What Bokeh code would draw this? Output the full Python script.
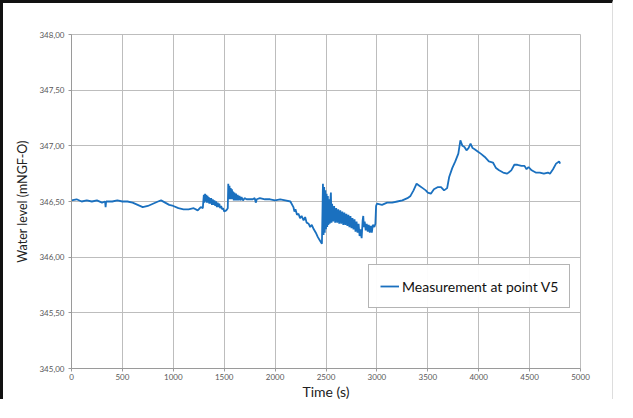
from bokeh.plotting import figure
from bokeh.models import FixedTicker, CustomJSTickFormatter, Range1d, Legend, LegendItem
from bokeh.embed import file_html
from bokeh.resources import INLINE

# ---- data ----
time_s = [0, 50, 100, 150, 200, 250, 300, 330, 335, 340, 400, 450, 500, 550, 600, 650, 700, 750,
          800, 850, 880, 920, 960, 1000, 1050, 1100, 1150, 1200, 1240, 1270, 1290,
          1300, 1306, 1312, 1318, 1324, 1330, 1336, 1342, 1348, 1354, 1360, 1366, 1372, 1380, 1388, 1396,
          1404, 1412, 1420, 1428, 1436, 1444, 1452, 1460, 1470, 1480, 1490, 1500, 1520, 1535,
          1540, 1546, 1552, 1558, 1564, 1570, 1576, 1582, 1588, 1594, 1600, 1608, 1616, 1624, 1632, 1640,
          1650, 1660, 1670, 1685, 1700, 1720, 1750, 1780, 1800, 1810, 1820,
          1850, 1900, 1950, 2000, 2050, 2100, 2150, 2180, 2190, 2200, 2215, 2230, 2245, 2260, 2280, 2295,
          2310, 2330, 2345, 2360, 2380, 2400, 2420, 2440, 2460,
          2470, 2476, 2482, 2488, 2494, 2500, 2506, 2512, 2518, 2524, 2530, 2536, 2542, 2548, 2554, 2560,
          2570, 2580, 2590, 2600, 2610, 2620, 2630, 2640, 2650, 2660, 2670, 2680, 2690, 2700, 2710, 2720,
          2730, 2740, 2750, 2760, 2770, 2780, 2790, 2800, 2810, 2820, 2830, 2840, 2850, 2860, 2866, 2872,
          2880, 2890, 2900, 2910, 2920, 2930, 2940, 2950, 2960, 2975, 2985, 2992,
          3000, 3050, 3100, 3150, 3200, 3250, 3300, 3330, 3360, 3390, 3420, 3450, 3480, 3500,
          3530, 3560, 3600, 3630, 3660, 3690, 3710, 3740, 3770, 3800, 3820, 3840, 3860, 3880, 3900, 3920,
          3940, 3960, 3990, 4020, 4060, 4100, 4140, 4170, 4200, 4240, 4280, 4320, 4350, 4380, 4420, 4450,
          4470, 4490, 4520, 4560, 4600, 4640, 4680, 4700, 4730, 4760, 4790, 4800]
level_m = [346.51, 346.52, 346.50, 346.51, 346.50, 346.51, 346.49, 346.50, 346.45, 346.50, 346.50, 346.51,
           346.50, 346.50, 346.49, 346.47, 346.45, 346.46, 346.48, 346.50, 346.51, 346.49, 346.47, 346.46,
           346.44, 346.43, 346.43, 346.44, 346.42, 346.45, 346.44,
           346.56, 346.49, 346.57, 346.50, 346.56, 346.49, 346.55, 346.49, 346.54, 346.48, 346.53, 346.48,
           346.53, 346.47, 346.52, 346.47, 346.51, 346.46, 346.50, 346.45, 346.49, 346.45, 346.48, 346.44,
           346.46, 346.43, 346.44, 346.41, 346.42, 346.44,
           346.66, 346.52, 346.64, 346.52, 346.62, 346.52, 346.61, 346.52, 346.59, 346.51, 346.58, 346.51,
           346.57, 346.51, 346.56, 346.51, 346.55, 346.51, 346.54, 346.51, 346.53, 346.52, 346.52, 346.52,
           346.53, 346.49, 346.52,
           346.53, 346.52, 346.52, 346.51, 346.52, 346.51, 346.50, 346.45, 346.41, 346.43, 346.38, 346.39,
           346.35, 346.37, 346.33, 346.36, 346.31, 346.30, 346.27, 346.29, 346.25, 346.22, 346.18, 346.15,
           346.12,
           346.66, 346.20, 346.63, 346.22, 346.60, 346.25, 346.57, 346.27, 346.55, 346.29, 346.52, 346.30,
           346.50, 346.58, 346.31, 346.48, 346.32, 346.46, 346.31, 346.44, 346.31, 346.43, 346.30, 346.42,
           346.30, 346.41, 346.29, 346.40, 346.29, 346.39, 346.28, 346.38, 346.27, 346.37, 346.26, 346.35,
           346.25, 346.34, 346.23, 346.32, 346.22, 346.30, 346.19, 346.25, 346.17, 346.33, 346.37, 346.27,
           346.32, 346.24, 346.30, 346.23, 346.29, 346.22, 346.28, 346.22, 346.29, 346.27, 346.30, 346.46,
           346.48, 346.47, 346.49, 346.49, 346.50, 346.51, 346.53, 346.55, 346.60, 346.66, 346.64, 346.62,
           346.60, 346.58, 346.57, 346.61, 346.63, 346.63, 346.60, 346.62, 346.72, 346.80, 346.86, 346.93,
           347.05, 347.00, 346.99, 346.96, 346.98, 347.02, 346.98, 346.97, 346.95, 346.93, 346.90, 346.86,
           346.85, 346.80, 346.78, 346.76, 346.75, 346.78, 346.83, 346.83, 346.82, 346.82, 346.79, 346.81,
           346.78, 346.76, 346.76, 346.75, 346.76, 346.75, 346.79, 346.84, 346.86, 346.84]
x_ticks = [0, 500, 1000, 1500, 2000, 2500, 3000, 3500, 4000, 4500, 5000]
y_ticks = [345.0, 345.5, 346.0, 346.5, 347.0, 347.5, 348.0]
series_label = "Measurement at point V5"
x_title = "Time (s)"
y_title = "Water level (mNGF-O)"

FONT = "Lato"

p = figure(width=613, height=399, output_backend="svg", toolbar_location=None,
           x_range=Range1d(0, 5000), y_range=Range1d(345, 348),
           min_border_left=68, min_border_right=36, min_border_top=31, min_border_bottom=26)
p.styles = {"border-top": "3px solid #111", "border-left": "3px solid #111",
            "border-right": "1px solid #ddd"}

line = p.line(time_s, level_m, line_color="#1a70bf", line_width=1.8)

p.xaxis.ticker = FixedTicker(ticks=x_ticks)
p.yaxis.ticker = FixedTicker(ticks=y_ticks)
p.xaxis.formatter = CustomJSTickFormatter(code="return tick.toFixed(0);")
p.yaxis.formatter = CustomJSTickFormatter(code="return tick.toFixed(2).replace('.', ',');")

for ax in (p.xaxis, p.yaxis):
    ax.axis_line_color = "#9a9a9a"
    ax.major_tick_line_color = "#9a9a9a"
    ax.minor_tick_line_color = None
    ax.major_tick_in = 0
    ax.major_tick_out = 3
    ax.major_label_text_font = FONT
    ax.major_label_text_font_size = "8px"
    ax.major_label_text_color = "#595959"
    ax.axis_label_text_font = FONT
    ax.axis_label_text_font_style = "normal"
    ax.axis_label_text_color = "#222222"

p.xaxis.axis_label = x_title
p.xaxis.axis_label_text_font_size = "14px"
p.xaxis.major_label_standoff = 2
p.xaxis.axis_label_standoff = 0
p.yaxis.axis_label = y_title
p.yaxis.axis_label_text_font_size = "12.5px"
p.yaxis.major_label_standoff = 4
p.yaxis.axis_label_standoff = 6

p.xgrid.grid_line_color = "#bdbdbd"
p.ygrid.grid_line_color = "#bdbdbd"
p.outline_line_color = "#bdbdbd"
p.background_fill_color = "white"
p.border_fill_color = "white"

legend = Legend(items=[LegendItem(label=series_label, renderers=[line])],
                location=(297, 60))
legend.label_text_font = FONT
legend.label_text_font_size = "14px"
legend.label_text_color = "#111111"
legend.border_line_color = "#6a6a6a"
legend.border_line_width = 1
legend.glyph_width = 19
legend.padding = 11
legend.margin = 0
legend.label_standoff = 3
p.add_layout(legend, "center")

open("out.html", "w").write(file_html(p, INLINE))
